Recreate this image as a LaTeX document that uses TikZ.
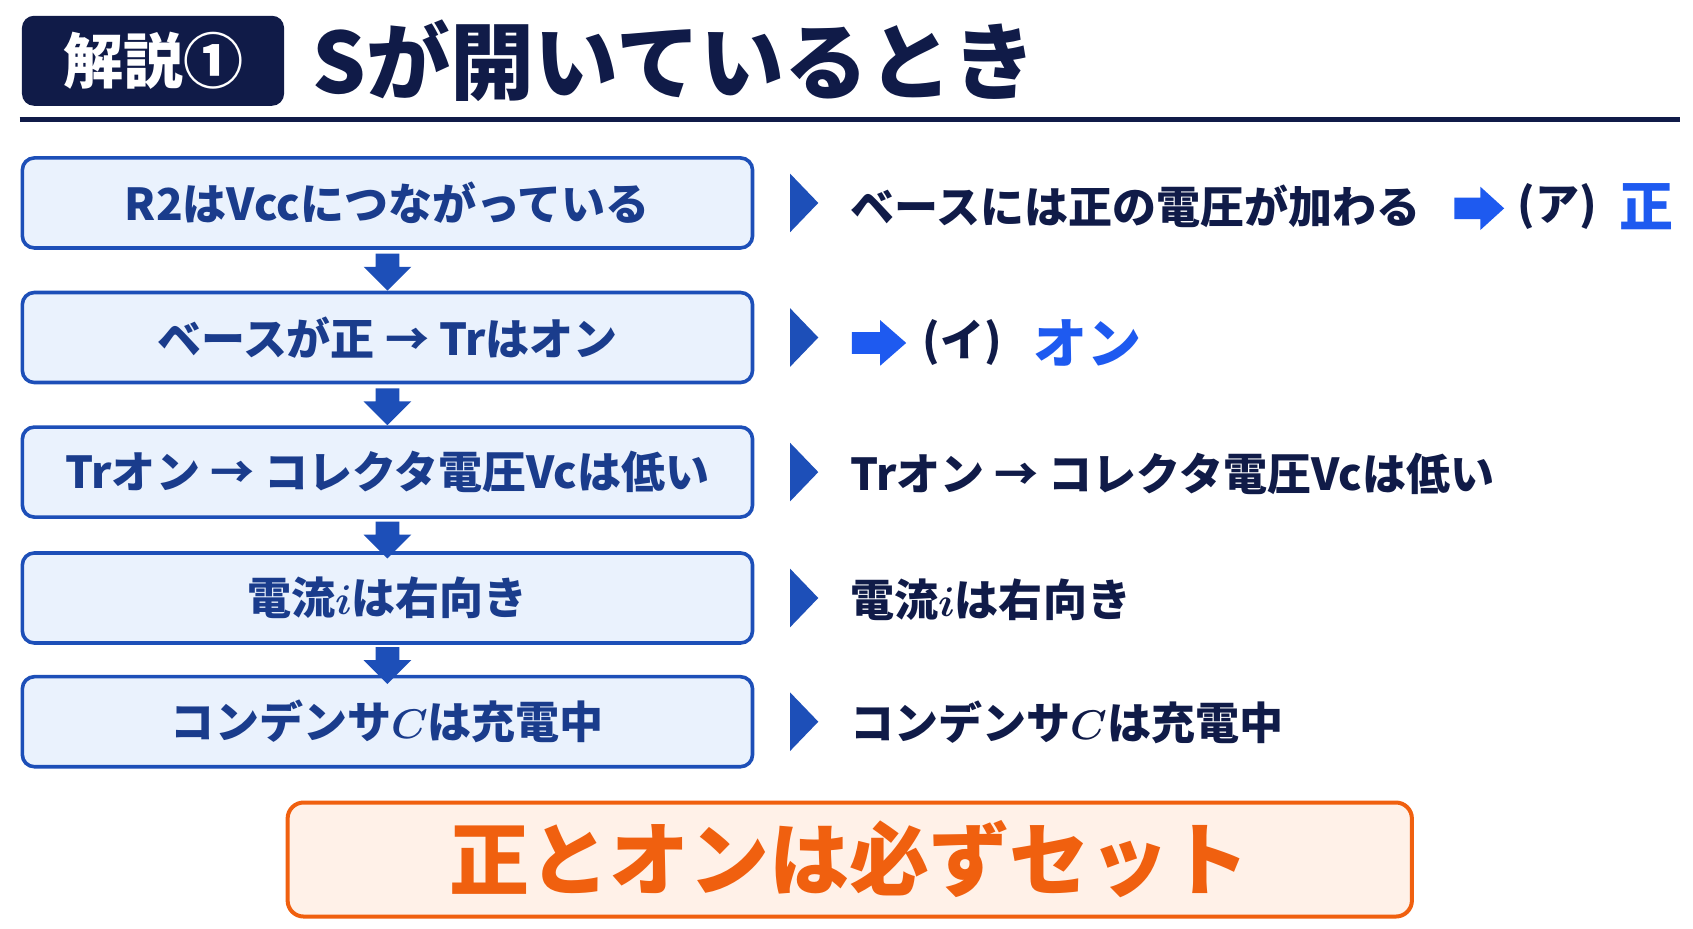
\documentclass[tikz,border=0pt]{standalone}
\usepackage{amsmath,bm}
\usepackage{fontspec}
\setmainfont{Noto Sans CJK JP}
\usepackage{tikz}
\usetikzlibrary{positioning,calc}
\definecolor{navy}{HTML}{101B48}
\definecolor{boxblue}{HTML}{1D4FB8}
\definecolor{boxfill}{HTML}{EAF2FD}
\definecolor{txtblue}{HTML}{1A3C8C}
\definecolor{brightblue}{HTML}{1E5AF0}
\definecolor{orng}{HTML}{F0600F}
\definecolor{orngfill}{HTML}{FFF1E8}
\tikzset{
  step box/.style={draw=boxblue, fill=boxfill, line width=1.8pt, rounded corners=6pt,
    minimum width=365pt, minimum height=45pt, font=\bfseries\fontsize{22}{26}\selectfont, text=txtblue},
  note/.style={anchor=west, font=\bfseries\fontsize{22}{26}\selectfont, text=navy, inner sep=0pt},
  down arrow/.style={fill=boxblue},
  row mark/.style={fill=boxblue},
}
\begin{document}
\begin{tikzpicture}[x=0.5425pt, y=-0.5425pt]
  \useasboundingbox (0,0) rectangle (1560,856);
  % title
  \node[fill=navy, rounded corners=6pt, minimum width=131pt, minimum height=45pt,
        text=white, font=\bfseries\fontsize{30}{34}\selectfont] (badge) at (141,56) {解説①};
  \node[anchor=west, text=navy, font=\bfseries\fontsize{42}{46}\selectfont, inner sep=0pt]
        (title) at (288,56) {Sが開いているとき};
  \draw[navy, line width=2.2pt] (18,110) -- (1548,110);
  % left column of steps
  \node[step box] (s1) at (357,187) {R2はVccにつながっている};
  \node[step box] (s2) at (357,311) {ベースが正 → Trはオン};
  \node[step box] (s3) at (357,435) {Trオン → コレクタ電圧Vcは低い};
  \node[step box] (s4) at (357,551) {電流$\bm{i}$は右向き};
  \node[step box] (s5) at (357,665) {コンデンサ$\bm{C}$は充電中};
  % down arrows between steps
  \foreach \a/\b in {s1/s2, s2/s3, s3/s4, s4/s5}
    \path[down arrow] ($(\a.south)!0.15!(\b.north)$) ++(-11,-2) -- ++(22,0) -- ++(0,12)
      -- ++(11,0) -- ++(-22,22) -- ++(-22,-22) -- ++(11,0) -- cycle;
  % right column marks
  \foreach \y in {187,311,435,551,665}
    \path[row mark] (728,\y-27) -- (754,\y) -- (728,\y+27) -- cycle;
  \node[note] (n1) at (783,190) {ベースには正の電圧が加わる};
  \path[fill=brightblue] (1340,182) -- ++(24,0) -- ++(0,-10) -- ++(22,20) -- ++(-22,20)
      -- ++(0,-10) -- ++(-24,0) -- cycle;
  \node[note] (a1) at (1398,190) {(ア)};
  \node[note, text=brightblue, font=\bfseries\fontsize{27}{30}\selectfont] (p1) at (1492,190) {正};
  \path[fill=brightblue] (785,306) -- ++(26,0) -- ++(0,-11) -- ++(24,21) -- ++(-24,21)
      -- ++(0,-11) -- ++(-26,0) -- cycle;
  \node[note] (a2) at (850,316) {(イ)};
  \node[note, text=brightblue, font=\bfseries\fontsize{27}{30}\selectfont] (p2) at (952,316) {オン};
  \node[note] (n3) at (783,437) {Trオン → コレクタ電圧Vcは低い};
  \node[note] (n4) at (783,553) {電流$\bm{i}$は右向き};
  \node[note] (n5) at (783,666) {コンデンサ$\bm{C}$は充電中};
  % summary
  \node[draw=orng, fill=orngfill, line width=2pt, rounded corners=8pt, minimum width=562pt,
        minimum height=57pt, text=orng, font=\bfseries\fontsize{40}{44}\selectfont]
        (sum) at (783,792) {正とオンは必ずセット};
\end{tikzpicture}
\end{document}
